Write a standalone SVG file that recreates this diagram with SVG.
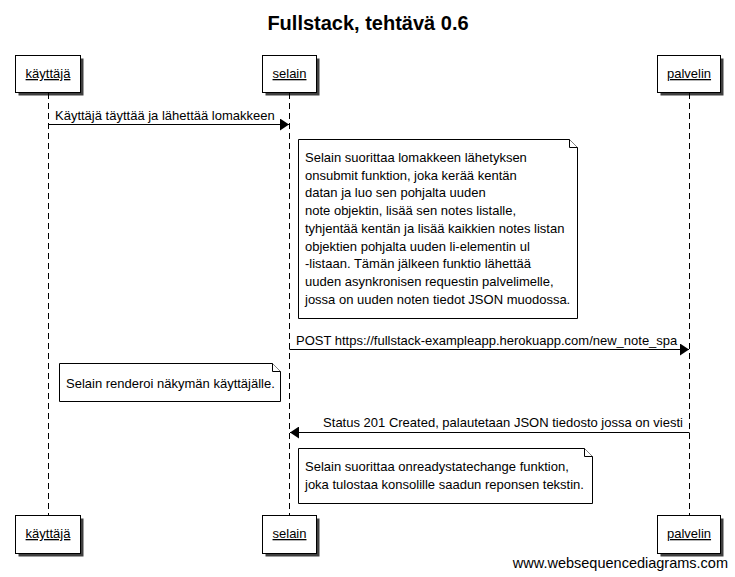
<svg xmlns="http://www.w3.org/2000/svg" width="735" height="577" viewBox="0 0 735 577">
<style>
text{font-family:"Liberation Sans",Arial,sans-serif;font-size:13px;fill:#000}
.title{font-size:20px;font-weight:bold}
.box{fill:#fff;stroke:#000;stroke-width:1}
.shadow{fill:#000;opacity:0.75}
.life{stroke:#000;stroke-width:1;stroke-dasharray:6,4;fill:none}
.msg{stroke:#000;stroke-width:1;fill:none}
.note{fill:#fff;stroke:#000;stroke-width:1}
.lbl{text-decoration:underline;text-anchor:middle}
.foot{font-size:14.5px}
</style>
<defs>
<marker id="ah" markerWidth="10" markerHeight="12" refX="9" refY="6" orient="auto" markerUnits="userSpaceOnUse">
<path d="M0,0 L9,6 L0,12 Z" fill="#000"/>
</marker>
</defs>
<rect width="735" height="577" fill="#fff"/>
<text class="title" x="368" y="30" text-anchor="middle">Fullstack, tehtävä 0.6</text>

<g id="lifelines">
<line class="life" x1="48.5" y1="93" x2="48.5" y2="515"/>
<line class="life" x1="289.5" y1="93" x2="289.5" y2="515"/>
<line class="life" x1="689.5" y1="93" x2="689.5" y2="515"/>
</g>

<g id="kayttaja">
<rect class="shadow" x="18.5" y="58.5" width="65" height="37"/>
<rect class="box" x="15.5" y="55.5" width="65" height="37"/>
<text class="lbl" x="48" y="78">käyttäjä</text>
<rect class="shadow" x="18.5" y="518.5" width="65" height="38"/>
<rect class="box" x="15.5" y="515.5" width="65" height="38"/>
<text class="lbl" x="48" y="538">käyttäjä</text>
</g>
<g id="selain">
<rect class="shadow" x="265.5" y="58.5" width="54" height="37"/>
<rect class="box" x="262.5" y="55.5" width="54" height="37"/>
<text class="lbl" x="289.5" y="78">selain</text>
<rect class="shadow" x="265.5" y="518.5" width="54" height="38"/>
<rect class="box" x="262.5" y="515.5" width="54" height="38"/>
<text class="lbl" x="289.5" y="538">selain</text>
</g>
<g id="palvelin">
<rect class="shadow" x="660.5" y="58.5" width="63" height="37"/>
<rect class="box" x="657.5" y="55.5" width="63" height="37"/>
<text class="lbl" x="689" y="78">palvelin</text>
<rect class="shadow" x="660.5" y="518.5" width="63" height="38"/>
<rect class="box" x="657.5" y="515.5" width="63" height="38"/>
<text class="lbl" x="689" y="538">palvelin</text>
</g>

<g id="connectors">
<line class="msg" x1="48.5" y1="124.5" x2="289" y2="124.5" marker-end="url(#ah)"/>
<text x="55" y="120">Käyttäjä täyttää ja lähettää lomakkeen</text>
<line class="msg" x1="289.5" y1="349.5" x2="689" y2="349.5" marker-end="url(#ah)"/>
<text x="296" y="345">POST https://fullstack-exampleapp.herokuapp.com/new_note_spa</text>
<line class="msg" x1="689.5" y1="432.5" x2="290" y2="432.5" marker-end="url(#ah)"/>
<text x="683" y="427" text-anchor="end">Status 201 Created, palautetaan JSON tiedosto jossa on viesti</text>
</g>

<g id="note1">
<path class="note" d="M298.5,139.5 H569.5 L577.5,147.5 V318.5 H298.5 Z"/>
<path class="note" d="M569.5,139.5 V147.5 H577.5" fill="none"/>
<text x="305">
<tspan x="305" y="162">Selain suorittaa lomakkeen lähetyksen</tspan>
<tspan x="305" y="180">onsubmit funktion, joka kerää kentän</tspan>
<tspan x="305" y="197">datan ja luo sen pohjalta uuden</tspan>
<tspan x="305" y="215">note objektin, lisää sen notes listalle,</tspan>
<tspan x="305" y="233">tyhjentää kentän ja lisää kaikkien notes listan</tspan>
<tspan x="305" y="251">objektien pohjalta uuden li-elementin ul</tspan>
<tspan x="305" y="268">-listaan. Tämän jälkeen funktio lähettää</tspan>
<tspan x="305" y="286">uuden asynkronisen requestin palvelimelle,</tspan>
<tspan x="305" y="304">jossa on uuden noten tiedot JSON muodossa.</tspan>
</text>
</g>

<g id="note2">
<path class="note" d="M59.5,363.5 H272.5 L280.5,371.5 V401.5 H59.5 Z"/>
<path class="note" d="M272.5,363.5 V371.5 H280.5" fill="none"/>
<text x="66" y="388">Selain renderoi näkymän käyttäjälle.</text>
</g>

<g id="note3">
<path class="note" d="M298.5,448.5 H584.5 L592.5,456.5 V503.5 H298.5 Z"/>
<path class="note" d="M584.5,448.5 V456.5 H592.5" fill="none"/>
<text x="305" y="471">Selain suorittaa onreadystatechange funktion,</text>
<text x="305" y="489">joka tulostaa konsolille saadun reponsen tekstin.</text>
</g>

<text class="foot" x="728" y="568" text-anchor="end">www.websequencediagrams.com</text>
</svg>
